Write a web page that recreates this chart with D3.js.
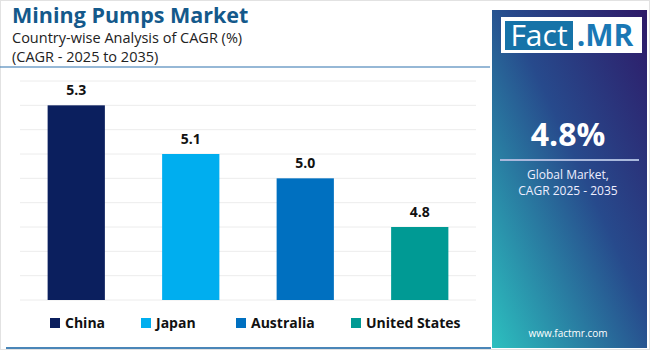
<!DOCTYPE html>
<html>
<head>
<meta charset="utf-8">
<script src="https://cdn.jsdelivr.net/npm/d3@7"></script>
<style>
  html, body { margin: 0; padding: 0; background: #fff; }
  svg { display: block; font-family: "Open Sans", "DejaVu Sans", sans-serif; }
</style>
</head>
<body>
<div id="chart"></div>
<script>
const countries = ['China', 'Japan', 'Australia', 'United States'];
const cagrValues = [5.3, 5.1, 5.0, 4.8];
const barColors = ['#0b1f5e', '#00aeef', '#0070c0', '#009a94'];
const gridTicks = [4.5, 4.6, 4.7, 4.8, 4.9, 5.0, 5.1, 5.2, 5.3, 5.4];
const globalCagr = '4.8%';

const data = countries.map((c, i) => ({ country: c, value: cagrValues[i], color: barColors[i] }));

const W = 650, H = 350;
const svg = d3.select('#chart').append('svg')
    .attr('width', W)
    .attr('height', H);

const defs = svg.append('defs');
const grad = defs.append('linearGradient')
    .attr('id', 'panelGrad')
    .attr('x1', '100%').attr('y1', '0%')
    .attr('x2', '0%').attr('y2', '100%');
grad.append('stop').attr('offset', '0%').attr('stop-color', '#2e1a68');
grad.append('stop').attr('offset', '45%').attr('stop-color', '#274a8c');
grad.append('stop').attr('offset', '100%').attr('stop-color', '#2cc0bf');

// outer frame
svg.append('rect')
    .attr('x', 0.5).attr('y', 0.5)
    .attr('width', W - 1).attr('height', H - 1)
    .attr('fill', '#fff')
    .attr('stroke', '#e2e2e2');

// Header
svg.append('text')
    .attr('x', 12).attr('y', 23)
    .attr('font-size', '21.5px')
    .attr('font-weight', 'bold')
    .attr('fill', '#14598b')
    .text('Mining Pumps Market');

svg.append('text')
    .attr('x', 12).attr('y', 43)
    .attr('font-size', '14.5px')
    .attr('fill', '#222')
    .text('Country-wise Analysis of CAGR (%)');

svg.append('text')
    .attr('x', 12).attr('y', 62)
    .attr('font-size', '14.5px')
    .attr('fill', '#222')
    .text('(CAGR - 2025 to 2035)');

svg.append('line')
    .attr('x1', 0).attr('x2', 490)
    .attr('y1', 67).attr('y2', 67)
    .attr('stroke', '#2f72ad')
    .attr('stroke-width', 1.2);

svg.append('line')
    .attr('x1', 6).attr('x2', 491)
    .attr('y1', 348).attr('y2', 348)
    .attr('stroke', '#4a86b8')
    .attr('stroke-width', 2);

// Scales
const x = d3.scaleBand()
    .domain(countries)
    .range([19, 477])
    .paddingInner(0.5)
    .paddingOuter(0.25);

const y = d3.scaleLinear()
    .domain([4.5, 5.4])
    .range([300, 81]);

// Gridlines
svg.append('g')
    .selectAll('line')
    .data(gridTicks)
    .enter()
    .append('line')
    .attr('x1', 20).attr('x2', 476)
    .attr('y1', d => y(d)).attr('y2', d => y(d))
    .attr('stroke', '#ececec')
    .attr('stroke-width', 1);

// Bars
svg.append('g')
    .selectAll('rect')
    .data(data)
    .enter()
    .append('rect')
    .attr('x', d => x(d.country))
    .attr('y', d => y(d.value))
    .attr('width', x.bandwidth())
    .attr('height', d => y(4.5) - y(d.value))
    .attr('fill', d => d.color);

// Value labels
svg.append('g')
    .selectAll('text')
    .data(data)
    .enter()
    .append('text')
    .attr('x', d => x(d.country) + x.bandwidth() / 2)
    .attr('y', d => y(d.value) - 10)
    .attr('text-anchor', 'middle')
    .attr('font-size', '14px')
    .attr('font-weight', 'bold')
    .attr('fill', '#111')
    .text(d => d.value.toFixed(1));

// Legend
const legendX = [50, 141, 236, 351];
const legend = svg.append('g')
    .selectAll('g')
    .data(data)
    .enter()
    .append('g')
    .attr('transform', (d, i) => `translate(${legendX[i]},318)`);

legend.append('rect')
    .attr('width', 10).attr('height', 10)
    .attr('fill', d => d.color);

legend.append('text')
    .attr('x', 15).attr('y', 10)
    .attr('font-size', '14px')
    .attr('font-weight', 'bold')
    .attr('fill', '#111')
    .text(d => d.country);

// Right panel
const panel = svg.append('g');
panel.append('rect')
    .attr('x', 492).attr('y', 10)
    .attr('width', 155).attr('height', 338)
    .attr('fill', 'url(#panelGrad)');

panel.append('rect')
    .attr('x', 501).attr('y', 17)
    .attr('width', 141).attr('height', 36)
    .attr('fill', '#fff');

panel.append('rect')
    .attr('x', 505).attr('y', 21)
    .attr('width', 68).attr('height', 29)
    .attr('fill', '#1673a8');

panel.append('text')
    .attr('x', 539).attr('y', 46)
    .attr('text-anchor', 'middle')
    .attr('font-size', '30px')
    .attr('fill', '#fff')
    .text('Fact');

panel.append('text')
    .attr('x', 605).attr('y', 46)
    .attr('text-anchor', 'middle')
    .attr('font-size', '30px')
    .attr('font-weight', 'bold')
    .attr('fill', '#1a78b5')
    .text('.MR');

panel.append('text')
    .attr('x', 568).attr('y', 146)
    .attr('text-anchor', 'middle')
    .attr('font-size', '32px')
    .attr('font-weight', 'bold')
    .attr('fill', '#fff')
    .text(globalCagr);

panel.append('line')
    .attr('x1', 500).attr('x2', 639)
    .attr('y1', 160).attr('y2', 160)
    .attr('stroke', '#a9b8dc')
    .attr('stroke-width', 2);

panel.append('text')
    .attr('x', 568).attr('y', 179)
    .attr('text-anchor', 'middle')
    .attr('font-size', '12px')
    .attr('fill', '#eef')
    .text('Global Market,');

panel.append('text')
    .attr('x', 568).attr('y', 195)
    .attr('text-anchor', 'middle')
    .attr('font-size', '12px')
    .attr('fill', '#eef')
    .text('CAGR 2025 - 2035');

panel.append('text')
    .attr('x', 568).attr('y', 337)
    .attr('text-anchor', 'middle')
    .attr('font-size', '10px')
    .attr('fill', '#fff')
    .text('www.factmr.com');
</script>
</body>
</html>
